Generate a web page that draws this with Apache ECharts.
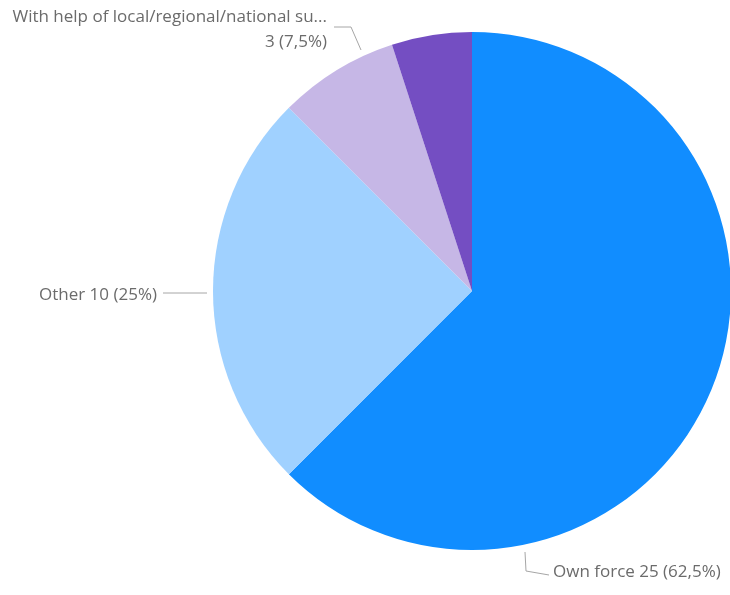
<!DOCTYPE html>
<html>
<head>
<meta charset="utf-8">
<script src="https://cdn.jsdelivr.net/npm/echarts@6/dist/echarts.min.js"></script>
<style>
  html, body { margin: 0; padding: 0; background: #fff; }
  #chart { width: 730px; height: 595px; }
</style>
</head>
<body>
<div id="chart"></div>
<script>
// Survey answers: how the measure was carried out
const categories = [
  'Own force',
  'Other',
  'With help of local/regional/national support',
  'With help of neighbouring municipalities'
];
const counts = [25, 10, 3, 2];
const colors = ['#118DFF', '#A0D1FF', '#C6B7E6', '#744EC2'];
const showLabel = [true, true, true, false];

const total = counts.reduce((a, b) => a + b, 0);

function pct(v) {
  const p = Math.round(v / total * 1000) / 10;
  return String(p).replace('.', ',') + '%';
}

function shortName(name) {
  return name.length > 39 ? name.slice(0, 39) + '...' : name;
}

// Pie geometry (pixels)
const cx = 472, cy = 291, R = 259;

// Label anchors and leader lines, relative to the pie centre
const labelPlacement = [
  { x: cx + 81, y: cy + 281, align: 'left',
    line: [[cx + 53, cy + 261], [cx + 54, cy + 280], [cx + 77, cy + 284]] },
  { x: cx - 315, y: cy + 4, align: 'right',
    line: [[cx - 265, cy + 2], [cx - 309, cy + 2]] },
  { x: cx - 145, y: cy - 261, align: 'right',
    line: [[cx - 111, cy - 241], [cx - 121, cy - 264], [cx - 138, cy - 264]] },
  null
];

const chart = echarts.init(document.getElementById('chart'), null, { renderer: 'canvas' });

chart.setOption({
  backgroundColor: '#ffffff',
  animation: false,
  series: [{
    type: 'pie',
    center: [cx, cy],
    radius: R,
    startAngle: 90,
    clockwise: true,
    avoidLabelOverlap: false,
    data: categories.map((name, i) => ({
      name: name,
      value: counts[i],
      itemStyle: { color: colors[i] },
      label: { show: showLabel[i] },
      labelLine: { show: showLabel[i] }
    })),
    label: {
      position: 'outside',
      fontFamily: '"Open Sans", "Noto Sans", sans-serif',
      fontSize: 17,
      color: '#6b6b6b',
      lineHeight: 25,
      formatter: function (p) {
        if (p.dataIndex === 2) {
          return shortName(p.name) + '\n' + p.value + ' (' + pct(p.value) + ')';
        }
        return p.name + ' ' + p.value + ' (' + pct(p.value) + ')';
      }
    },
    labelLine: {
      lineStyle: { color: '#a6a6a6', width: 1 }
    },
    labelLayout: function (params) {
      const pl = labelPlacement[params.dataIndex];
      if (!pl) return {};
      return {
        x: pl.x,
        y: pl.y,
        align: pl.align,
        verticalAlign: 'middle',
        labelLinePoints: pl.line
      };
    },
    emphasis: { disabled: true }
  }]
});
</script>
</body>
</html>
